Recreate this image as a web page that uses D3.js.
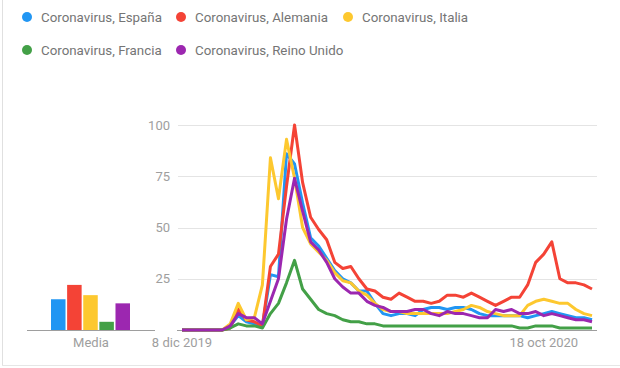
<!DOCTYPE html>
<html>
<head>
<meta charset="utf-8">
<script src="https://cdn.jsdelivr.net/npm/d3@7"></script>
<style>
  html, body { margin: 0; padding: 0; background: #fff; }
  svg { display: block; font-family: Roboto, 'Noto Sans', sans-serif; }
</style>
</head>
<body>
<svg id="chart" width="620" height="368"></svg>
<script>
// weekly points, 8 dic 2019 .. 29 nov 2020
const seriesNames = ['Coronavirus, España', 'Coronavirus, Alemania', 'Coronavirus, Italia',
    'Coronavirus, Francia', 'Coronavirus, Reino Unido'];
const colors = ['#2196f3', '#f44336', '#fdc82f', '#43a047', '#9c27b0'];

const espana = [0, 0, 0, 0, 0, 0, 2, 7, 4, 3, 2, 27, 26, 86, 81, 62, 45, 41, 35, 29, 25, 23, 19, 19, 13, 8,
    7, 8, 8, 7, 10, 11, 11, 10, 11, 11, 10, 8, 7, 7, 7, 7, 7, 6, 7, 8, 9, 8, 7, 6, 6, 5];
const alemania = [0, 0, 0, 0, 0, 0, 1, 10, 5, 4, 2, 31, 37, 70, 100, 72, 55, 49, 44, 33, 30, 31, 25, 20, 19, 16,
    15, 18, 16, 14, 14, 13, 14, 17, 17, 16, 18, 16, 14, 12, 14, 16, 16, 22, 33, 37, 43, 25, 23, 23, 22, 20];
const italia = [0, 0, 0, 0, 0, 0, 3, 13, 5, 6, 22, 84, 64, 93, 74, 50, 42, 38, 34, 28, 24, 23, 19, 17, 13, 10,
    9, 9, 8, 8, 8, 8, 8, 8, 9, 10, 12, 11, 9, 8, 7, 7, 7, 12, 14, 15, 14, 13, 13, 10, 8, 7];
const francia = [0, 0, 0, 0, 0, 0, 1, 3, 2, 2, 1, 8, 13, 23, 34, 20, 15, 10, 8, 7, 5, 4, 4, 3, 3, 2,
    2, 2, 2, 2, 2, 2, 2, 2, 2, 2, 2, 2, 2, 2, 2, 2, 1, 1, 2, 2, 2, 1, 1, 1, 1, 1];
const reinoUnido = [0, 0, 0, 0, 0, 0, 2, 8, 6, 6, 3, 14, 25, 54, 74, 58, 43, 39, 33, 25, 21, 18, 18, 14, 12, 11,
    9, 9, 9, 10, 10, 8, 7, 9, 8, 8, 7, 6, 6, 10, 9, 10, 8, 8, 9, 7, 8, 7, 6, 5, 5, 4];

const mediaValues = [15, 22, 17, 4, 13];
const yTicks = [25, 50, 75, 100];
const xTickLabels = [{ i: 0, label: '8 dic 2019' }, { i: 45, label: '18 oct 2020' }];

const series = [espana, alemania, italia, francia, reinoUnido];

const svg = d3.select('#chart');
const textColor = '#9e9e9e';

// frame lines
svg.append('line')
    .attr('x1', 2.5).attr('x2', 2.5).attr('y1', 0).attr('y2', 365)
    .attr('stroke', '#e0e0e0');
svg.append('line')
    .attr('x1', 2).attr('x2', 620).attr('y1', 365.5).attr('y2', 365.5)
    .attr('stroke', '#e6e6e6');

// legend
const legendPos = [[27, 17], [181, 17], [348, 17], [27, 50], [181, 50]];
const legend = svg.append('g');
seriesNames.forEach((name, k) => {
    const [lx, ly] = legendPos[k];
    legend.append('circle')
        .attr('cx', lx).attr('cy', ly).attr('r', 5)
        .attr('fill', colors[k]);
    legend.append('text')
        .attr('x', lx + 14).attr('y', ly)
        .attr('dy', '0.35em')
        .attr('font-size', 14)
        .attr('fill', '#757575')
        .text(name);
});

// legend text in the picture: "Coronavirus, España" is ~121px wide
const probe = legend.select('text').node().getComputedTextLength();
legend.selectAll('text').attr('font-size', 14 * 121 / probe);

// scales
const x = d3.scaleLinear().domain([0, espana.length - 1]).range([182, 592]);
const y = d3.scaleLinear().domain([0, 100]).range([330, 125]);

// grid
svg.append('g')
    .selectAll('line')
    .data(yTicks)
    .join('line')
    .attr('x1', 178).attr('x2', 597)
    .attr('y1', d => Math.round(y(d)) + 0.5)
    .attr('y2', d => Math.round(y(d)) + 0.5)
    .attr('stroke', '#e4e4e4');

svg.append('g')
    .selectAll('text')
    .data(yTicks)
    .join('text')
    .attr('x', 170)
    .attr('y', d => y(d))
    .attr('dy', '0.35em')
    .attr('text-anchor', 'end')
    .attr('font-size', 13)
    .attr('fill', textColor)
    .text(d => d);

// x axis
svg.append('line')
    .attr('x1', 177).attr('x2', 597).attr('y1', 330.5).attr('y2', 330.5)
    .attr('stroke', '#9e9e9e');

svg.append('g')
    .selectAll('text')
    .data(xTickLabels)
    .join('text')
    .attr('x', d => x(d.i))
    .attr('y', 342)
    .attr('dy', '0.35em')
    .attr('text-anchor', 'middle')
    .attr('font-size', 13)
    .attr('fill', textColor)
    .text(d => d.label);

// lines
const line = d3.line()
    .x((d, i) => x(i))
    .y(d => y(d));

svg.append('g')
    .selectAll('path')
    .data(series)
    .join('path')
    .attr('d', line)
    .attr('fill', 'none')
    .attr('stroke', (d, k) => colors[k])
    .attr('stroke-width', 3)
    .attr('stroke-linejoin', 'round');

// Media bars
const xb = d3.scaleBand()
    .domain(seriesNames)
    .range([51, 130])
    .paddingInner(0.1);

svg.append('g')
    .selectAll('rect')
    .data(mediaValues)
    .join('rect')
    .attr('x', (d, k) => xb(seriesNames[k]))
    .attr('width', xb.bandwidth())
    .attr('y', d => y(d))
    .attr('height', d => y(0) - y(d))
    .attr('fill', (d, k) => colors[k]);

svg.append('line')
    .attr('x1', 27).attr('x2', 155).attr('y1', 330.5).attr('y2', 330.5)
    .attr('stroke', '#9e9e9e');

svg.append('text')
    .attr('x', 91).attr('y', 342)
    .attr('dy', '0.35em')
    .attr('text-anchor', 'middle')
    .attr('font-size', 13)
    .attr('fill', textColor)
    .text('Media');
</script>
</body>
</html>
